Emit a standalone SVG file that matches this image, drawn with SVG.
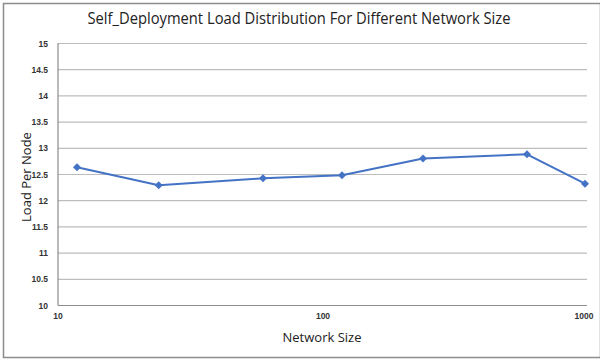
<svg xmlns="http://www.w3.org/2000/svg" width="600" height="360" viewBox="0 0 600 360">
<style>
.grid{stroke:#bdbdbd;stroke-width:1.2;fill:none}
.axis{stroke:#8c8c8c;stroke-width:1.2;fill:none}
.tick{font-family:"Liberation Sans",Arial,sans-serif;font-size:8.5px;font-weight:bold;fill:#333}
.lab{font-family:"Open Sans","Liberation Sans",Arial,sans-serif;font-size:13px;fill:#222}
.title{font-family:"Open Sans","Liberation Sans",Arial,sans-serif;font-size:16.5px;fill:#222}
.series{stroke:#4472C4;stroke-width:2;fill:none;stroke-linejoin:round}
.pt{fill:#4472C4}
</style>
<defs>
<path id="dm" d="M0,-4 L4,0 L0,4 L-4,0 Z"/>
</defs>
<rect x="0" y="0" width="600" height="360" fill="#fff"/>
<rect x="3.5" y="3.5" width="597" height="354" fill="none" stroke="#8c8c8c" stroke-width="1.5"/>
<g id="title"><text class="title" x="299" y="24" text-anchor="middle" textLength="423" lengthAdjust="spacingAndGlyphs">Self_Deployment Load Distribution For Different Network Size</text></g>
<g id="gridlines">
<line class="grid" x1="58" y1="43.5" x2="587" y2="43.5"/>
<line class="grid" x1="58" y1="69.7" x2="587" y2="69.7"/>
<line class="grid" x1="58" y1="95.9" x2="587" y2="95.9"/>
<line class="grid" x1="58" y1="122.1" x2="587" y2="122.1"/>
<line class="grid" x1="58" y1="148.3" x2="587" y2="148.3"/>
<line class="grid" x1="58" y1="174.5" x2="587" y2="174.5"/>
<line class="grid" x1="58" y1="200.7" x2="587" y2="200.7"/>
<line class="grid" x1="58" y1="226.9" x2="587" y2="226.9"/>
<line class="grid" x1="58" y1="253.1" x2="587" y2="253.1"/>
<line class="grid" x1="58" y1="279.3" x2="587" y2="279.3"/>
</g>
<g id="axes">
<line class="axis" x1="58" y1="43" x2="58" y2="305.5"/>
<line class="axis" x1="58" y1="305.5" x2="587" y2="305.5"/>
</g>
<g id="y-ticks" class="tick" text-anchor="end">
<text x="48" y="46.5">15</text>
<text x="48" y="72.7">14.5</text>
<text x="48" y="98.9">14</text>
<text x="48" y="125.1">13.5</text>
<text x="48" y="151.3">13</text>
<text x="48" y="177.5">12.5</text>
<text x="48" y="203.7">12</text>
<text x="48" y="229.9">11.5</text>
<text x="48" y="256.1">11</text>
<text x="48" y="282.3">10.5</text>
<text x="48" y="308.5">10</text>
</g>
<g id="x-ticks" class="tick" text-anchor="middle">
<text x="58" y="319">10</text>
<text x="323" y="319">100</text>
<text x="584" y="319">1000</text>
</g>
<g id="axis-labels">
<text class="lab" x="322" y="342" text-anchor="middle">Network Size</text>
<text class="lab" transform="translate(31,177) rotate(-90)" text-anchor="middle">Load Per Node</text>
</g>
<g id="connectors">
<polyline class="series" points="77,167.3 158.7,185.3 263,178.3 342,175.3 423,158.5 527,154.3 585,183.7"/>
</g>
<g id="markers" class="pt">
<use href="#dm" x="77" y="167.3"/>
<use href="#dm" x="158.7" y="185.3"/>
<use href="#dm" x="263" y="178.3"/>
<use href="#dm" x="342" y="175.3"/>
<use href="#dm" x="423" y="158.5"/>
<use href="#dm" x="527" y="154.3"/>
<use href="#dm" x="585" y="183.7"/>
</g>
</svg>
